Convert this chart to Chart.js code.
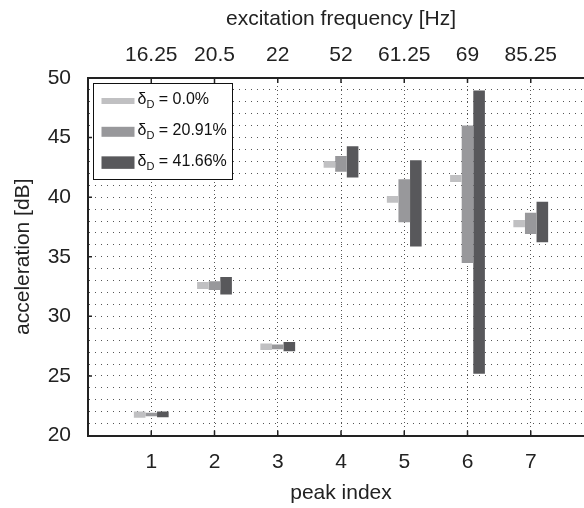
<!DOCTYPE html>
<html>
<head>
<meta charset="utf-8">
<title>Peak acceleration ranges</title>
<script src="https://cdn.jsdelivr.net/npm/chart.js@4.4.1/dist/chart.umd.min.js"></script>
<style>
  html, body { margin: 0; padding: 0; background: #fff; overflow: hidden; }
  canvas { display: block; }
</style>
</head>
<body>
<canvas id="peakChart" width="620" height="508"></canvas>
<script>
// peaks and the frequency each one is excited at
const peakIndex = [1, 2, 3, 4, 5, 6, 7];
const excitationFreq = ['16.25', '20.5', '22', '52', '61.25', '69', '85.25'];
const dampingLabels = ['0.0%', '20.91%', '41.66%'];
const yTicks = [20, 25, 30, 35, 40, 45, 50];

// acceleration range [dB] per peak: lower / upper edge
const low00  = [21.50, 32.30, 27.17, 42.46, 39.54, 41.28, 37.47];
const high00 = [22.02, 32.89, 27.71, 43.04, 40.10, 41.87, 38.08];
const low21  = [21.62, 32.20, 27.23, 42.14, 37.89, 34.47, 36.90];
const high21 = [21.91, 32.95, 27.63, 43.46, 41.51, 46.01, 38.70];
const low42  = [21.54, 31.83, 27.06, 41.64, 35.87, 25.19, 36.21];
const high42 = [22.02, 33.31, 27.85, 44.28, 43.10, 48.96, 39.62];

const barColors = ['#c0c0c2', '#98989b', '#58585b'];
const swatchHeights = [6, 10, 12.5];
const FONT = '"Liberation Sans", Arial, Helvetica, sans-serif';

Chart.defaults.font.family = FONT;
Chart.defaults.font.size = 21;
Chart.defaults.color = '#222';

function rangeData(lo, hi) {
    return peakIndex.map((p, i) => ({ x: p, y: [lo[i], hi[i]] }));
}

/* --- boxed legend with subscripted delta --- */
const boxLegend = {
    id: 'boxLegend',
    afterDatasetsDraw(chart) {
        const { ctx, chartArea } = chart;
        const left = chartArea.left + 5.5;
        const top = chartArea.top + 5.5;
        ctx.save();
        ctx.fillStyle = '#fff';
        ctx.fillRect(left, top, 139, 96);
        ctx.strokeStyle = '#111';
        ctx.lineWidth = 1;
        ctx.strokeRect(left, top, 139, 96);

        chart.data.datasets.forEach((ds, i) => {
            const cy = top + 17.5 + i * 30.8;
            const h = swatchHeights[i];
            ctx.fillStyle = ds.backgroundColor;
            ctx.fillRect(left + 8, cy - h / 2, 33, h);

            ctx.fillStyle = '#111';
            ctx.textBaseline = 'middle';
            let x = left + 44;
            ctx.font = '16px ' + FONT;
            ctx.fillText('δ', x, cy - 1);
            x += ctx.measureText('δ').width;
            ctx.font = '11px ' + FONT;
            ctx.fillText('D', x, cy + 4);
            x += ctx.measureText('D').width;
            ctx.font = '16px ' + FONT;
            ctx.fillText(' = ' + dampingLabels[i], x, cy - 1);
        });
        ctx.restore();
    }
};

/* --- short tick marks pointing into the plot --- */
const innerTicks = {
    id: 'innerTicks',
    afterDraw(chart) {
        const { ctx, chartArea: a, scales } = chart;
        ctx.save();
        ctx.strokeStyle = '#222';
        ctx.lineWidth = 1.5;
        ctx.beginPath();
        peakIndex.forEach(p => {
            const x = scales.x.getPixelForValue(p);
            ctx.moveTo(x, a.bottom);
            ctx.lineTo(x, a.bottom - 5);
            ctx.moveTo(x, a.top);
            ctx.lineTo(x, a.top + 5);
        });
        yTicks.slice(1, -1).forEach(v => {
            const y = scales.y.getPixelForValue(v);
            ctx.moveTo(a.left, y);
            ctx.lineTo(a.left + 4, y);
        });
        ctx.stroke();
        ctx.restore();
    }
};

const common = {
    categoryPercentage: 0.55,
    barPercentage: 1.0,
    borderWidth: 0,
    borderSkipped: false
};

new Chart(document.getElementById('peakChart'), {
    type: 'bar',
    data: {
        datasets: [
            { label: dampingLabels[0], data: rangeData(low00, high00), backgroundColor: barColors[0], ...common },
            { label: dampingLabels[1], data: rangeData(low21, high21), backgroundColor: barColors[1], ...common },
            { label: dampingLabels[2], data: rangeData(low42, high42), backgroundColor: barColors[2], ...common }
        ]
    },
    options: {
        responsive: false,
        animation: false,
        layout: { padding: { left: 0, top: 0, right: 26, bottom: 0 } },
        plugins: {
            legend: { display: false },
            tooltip: { enabled: false }
        },
        scales: {
            x: {
                type: 'linear',
                position: 'bottom',
                min: 0,
                max: 8,
                offset: false,
                afterFit: s => { s.height = 72.5; },
                ticks: {
                    stepSize: 1,
                    autoSkip: false,
                    maxRotation: 0,
                    padding: 14.5,
                    callback: v => peakIndex.includes(v) ? String(v) : ''
                },
                grid: { offset: false, color: '#555', lineWidth: 1, drawTicks: false },
                border: { display: true, color: '#222', width: 2, dash: [1, 3] },
                title: { display: true, text: 'peak index', padding: { top: 0, bottom: 2.5 } }
            },
            freq: {
                type: 'linear',
                axis: 'x',
                position: 'top',
                min: 0,
                max: 8,
                offset: false,
                afterFit: s => { s.height = 78; },
                ticks: {
                    stepSize: 1,
                    autoSkip: false,
                    maxRotation: 0,
                    padding: 10.5,
                    callback: v => {
                        const i = peakIndex.indexOf(v);
                        return i >= 0 ? excitationFreq[i] : '';
                    }
                },
                grid: { offset: false, drawOnChartArea: false, drawTicks: false },
                border: { display: true, color: '#222', width: 2 },
                title: { display: true, text: 'excitation frequency [Hz]', padding: { top: 6.5, bottom: 0 } }
            },
            y: {
                min: 20,
                max: 50,
                afterFit: s => { s.width = 88; },
                ticks: {
                    stepSize: 1,
                    autoSkip: false,
                    padding: 17,
                    callback: v => yTicks.includes(v) ? String(v) : ''
                },
                grid: { color: '#555', lineWidth: 1, drawTicks: false },
                border: { display: true, color: '#222', width: 2, dash: [1, 5] },
                title: { display: true, text: 'acceleration [dB]', padding: { top: 10.5, bottom: 0 } }
            }
        }
    },
    plugins: [boxLegend, innerTicks]
});
</script>
</body>
</html>
